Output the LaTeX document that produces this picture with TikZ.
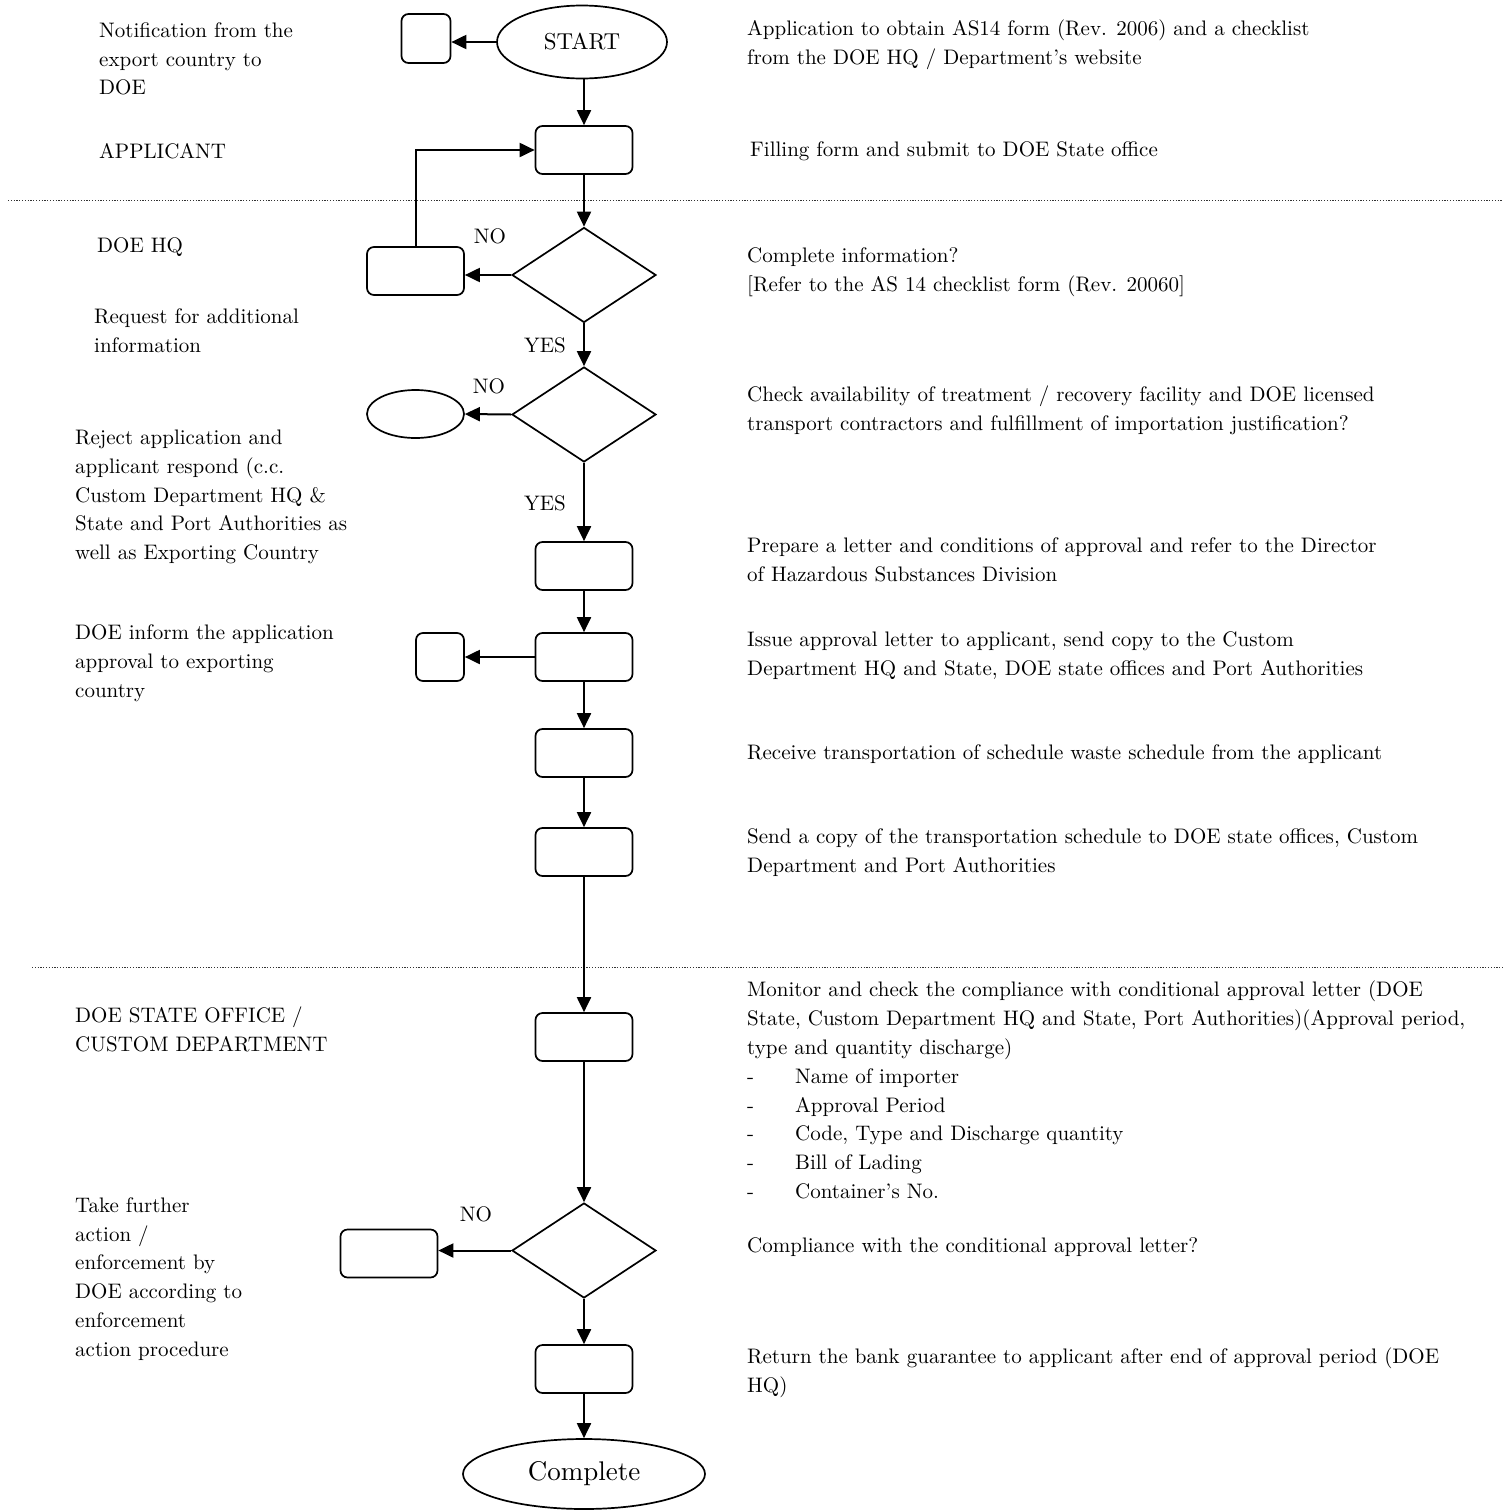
\documentclass[tikz,border=0pt]{standalone}
\usepackage{fontspec}
\setmainfont{lmroman10-regular}[Extension=.otf]
\usetikzlibrary{shapes.geometric,arrows.meta}
\begin{document}
\begin{tikzpicture}[x=1pt,y=-1pt,
  every node/.style={font=\fontsize{21}{28.8}\selectfont},
  stepbox/.style={draw,rectangle,rounded corners=7pt,line width=1.7pt,minimum width=97pt,minimum height=48pt,inner sep=0pt},
  smallbox/.style={draw,rectangle,rounded corners=7pt,line width=1.7pt,minimum width=48pt,minimum height=48pt,inner sep=0pt},
  decision/.style={draw,diamond,line width=1.7pt,minimum width=144pt,minimum height=95pt,inner sep=0pt},
  terminal/.style={draw,ellipse,line width=1.7pt,inner sep=0pt},
  flow/.style={line width=2pt,-{Triangle[length=15pt,width=14pt]}},
  txt/.style={anchor=west,align=left,inner sep=0pt},
  lbl/.style={inner sep=0pt},
  sep/.style={line width=1pt,dash pattern=on 1.2pt off 1.6pt,black!80}]
\useasboundingbox (0,0) rectangle (1503,1510);

% separators between the stages
\draw[sep] (8,200) -- (1503,200);
\draw[sep] (32,967) -- (1503,967);

% main column
\node[terminal,minimum width=170pt,minimum height=73pt,font=\fontsize{23}{28}\selectfont] (start) at (582,42) {START};
\node[smallbox,minimum width=49pt,minimum height=49pt] (notify) at (426,38.5) {};
\node[stepbox] (fill) at (584,150) {};
\node[decision] (d1) at (584,275) {};
\node[stepbox] (request) at (415.5,271) {};
\node[decision] (d2) at (584,414.5) {};
\node[terminal,minimum width=97pt,minimum height=48pt] (reject) at (415.5,414) {};
\node[stepbox] (prepare) at (584,566) {};
\node[stepbox] (issue) at (584,657) {};
\node[smallbox] (inform) at (440,657) {};
\node[stepbox] (receive) at (584,753) {};
\node[stepbox] (sendcopy) at (584,852) {};
\node[stepbox] (monitor) at (584,1037) {};
\node[decision] (d3) at (584,1250.5) {};
\node[stepbox] (enforce) at (389,1253.5) {};
\node[stepbox] (refund) at (584,1369) {};
\node[terminal,minimum width=242pt,minimum height=70pt,font=\fontsize{27}{32}\selectfont] (done) at (584,1474) {Complete};

% connectors
\draw[flow] (start.west) -- (start.west -| notify.east);
\draw[flow] (start.south -| fill.north) -- (fill.north);
\draw[flow] (fill) -- (d1);
\draw[flow] (d1.west) -- (d1.west -| request.east);
\draw[flow] (request.north) |- (fill.west);
\draw[flow] (d1) -- (d2);
\draw[flow] (d2.west) -- (reject.east);
\draw[flow] (d2) -- (prepare);
\draw[flow] (prepare) -- (issue);
\draw[flow] (issue.west) -- (inform.east);
\draw[flow] (issue) -- (receive);
\draw[flow] (receive) -- (sendcopy);
\draw[flow] (sendcopy) -- (monitor);
\draw[flow] (monitor) -- (d3);
\draw[flow] (d3.west) -- (d3.west -| enforce.east);
\draw[flow] (d3) -- (refund);
\draw[flow] (refund) -- (done);

% branch labels
\node[lbl] (no1) at (490,236) {NO};
\node[lbl] (yes1) at (545,345) {YES};
\node[lbl] (no2) at (489,386) {NO};
\node[lbl] (yes2) at (545,503) {YES};
\node[lbl] (no3) at (476,1214) {NO};

% left-hand notes
\node[txt] (tl1) at (99,59) {Notification from the\\export country to\\DOE};
\node[txt] (tl2) at (99,151) {APPLICANT};
\node[txt] (tl3) at (97,247) {DOE HQ};
\node[txt] (tl4) at (94,330.5) {Request for additional\\information};
\node[txt] (tl5) at (75,497) {Reject application and\\applicant respond (c.c.\\Custom Department HQ \&\\State and Port Authorities as\\well as Exporting Country};
\node[txt] (tl6) at (75,663) {DOE inform the application\\approval to exporting\\country};
\node[txt] (tl7) at (75,1029.5) {DOE STATE OFFICE /\\CUSTOM DEPARTMENT};
\node[txt] (tl8) at (75,1279) {Take further\\action /\\enforcement by\\DOE according to\\enforcement\\action procedure};

% right-hand descriptions
\node[txt] (tr1) at (747,44.5) {Application to obtain AS14 form (Rev. 2006) and a checklist\\from the DOE HQ / Department’s website};
\node[txt] (tr2) at (750,151) {Filling form and submit to DOE State office};
\node[txt] (tr3) at (747,272.5) {Complete information?\\{[}Refer to the AS 14 checklist form (Rev. 20060{]}};
\node[txt] (tr4) at (747,410.5) {Check availability of treatment / recovery facility and DOE licensed\\transport contractors and fulfillment of importation justification?};
\node[txt] (tr5) at (747,560) {Prepare a letter and conditions of approval and refer to the Director\\of Hazardous Substances Division};
\node[txt] (tr6) at (747,656) {Issue approval letter to applicant, send copy to the Custom\\Department HQ and State, DOE state offices and Port Authorities};
\node[txt] (tr7) at (747,754) {Receive transportation of schedule waste schedule from the applicant};
\node[txt] (tr8) at (747,852.5) {Send a copy of the transportation schedule to DOE state offices, Custom\\Department and Port Authorities};
\node[txt] (tr9) at (747,1090) {Monitor and check the compliance with conditional approval letter (DOE\\State, Custom Department HQ and State, Port Authorities)(Approval period,\\type and quantity discharge)\\
\makebox[48pt][l]{-}Name of importer\\
\makebox[48pt][l]{-}Approval Period\\
\makebox[48pt][l]{-}Code, Type and Discharge quantity\\
\makebox[48pt][l]{-}Bill of Lading\\
\makebox[48pt][l]{-}Container’s No.};
\node[txt] (tr10) at (747,1247) {Compliance with the conditional approval letter?};
\node[txt] (tr11) at (747,1372.5) {Return the bank guarantee to applicant after end of approval period (DOE\\HQ)};
\end{tikzpicture}
\end{document}
